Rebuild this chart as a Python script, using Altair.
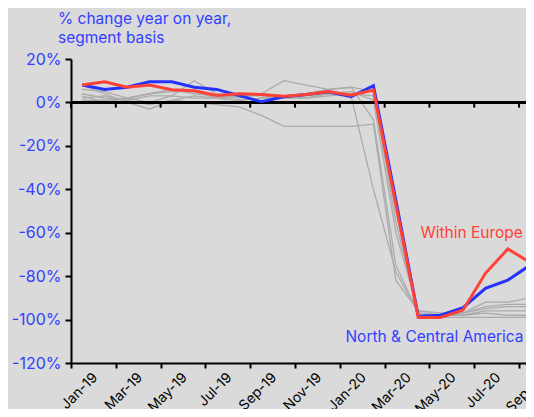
import altair as alt
import pandas as pd

months = ["Jan-19", "Feb-19", "Mar-19", "Apr-19", "May-19", "Jun-19", "Jul-19",
          "Aug-19", "Sep-19", "Oct-19", "Nov-19", "Dec-19", "Jan-20", "Feb-20",
          "Mar-20", "Apr-20", "May-20", "Jun-20", "Jul-20", "Aug-20", "Sep-20"]

within_europe = [8.0, 9.5, 7.0, 8.0, 5.8, 5.4, 3.2, 4.0, 3.7, 2.9, 3.7, 5.0, 3.3, 5.7,
                 -47, -99, -99, -95.6, -78.7, -67.5, -73.7]
north_central_america = [8.0, 6.0, 7.0, 9.5, 9.5, 7.0, 6.0, 3.2, 0.3, 2.6, 3.6, 4.9, 2.6, 7.7,
                         -45, -98.5, -98, -94.5, -85.6, -81.8, -74.9]

other_segments = {
    "Europe - Asia": [2, 3, 1, -1, 1, 0, -1, -2, -6, -11, -11, -11, -11, -10,
                      -82, -96, -97, -97, -95, -94, -94],
    "Middle East - Asia": [6, 5, 2, 4, 6, 4, 3, 2, 4, 10, 8, 6, 7, -8,
                           -75, -97, -98, -98, -97, -98, -98],
    "Within Asia": [4, 2, 1, 3, 3, 10, 4, 3, 3, 2, 3, 4, 3, -40,
                    -78, -97, -98, -97, -94, -93, -93],
    "Europe - North America": [1, 1, 2, 0, 3, 2, 2, 1, 2, 3, 2, 4, 5, 1,
                               -60, -96, -97, -97, -92, -92, -90],
    "Europe - Middle East": [8, 4, 0, -3, 1, 3, 2, 1, 2, 2, 2, 3, 4, 3,
                             -50, -97, -98, -98, -96, -96, -96],
    "Within Middle East": [3, 0, 2, 4, 5, 5, 2, 3, 4, 3, 4, 6, 7, 5,
                           -55, -98, -99, -99, -99, -99, -99],
}

label_names = ["Within Europe", "North & Central America"]
label_pos_x = [15.1, 11.75]
label_pos_y = [-60, -108]

y_ticks = [-120, -100, -80, -60, -40, -20, 0, 20]
x_tick_pos = [i - 0.5 for i in range(0, 21, 2)]

BLUE = "#2432ff"
BLUE_TXT = "#3340ff"
RED = "#ff4136"
GREY = "#ababab"
FONT = "Inter"

idx = list(range(len(months)))

grey_rows = []
for name, vals in other_segments.items():
    for i, v in zip(idx, vals):
        grey_rows.append({"i": i, "v": v, "segment": name})
grey_df = pd.DataFrame(grey_rows)
red_df = pd.DataFrame({"i": idx, "v": within_europe})
blue_df = pd.DataFrame({"i": idx, "v": north_central_america})
lab_df = pd.DataFrame({"x": label_pos_x, "y": label_pos_y, "t": label_names,
                       "c": [RED, BLUE_TXT]})
ticks_df = pd.DataFrame({"p": x_tick_pos})

label_array = "[" + ",".join("'" + m + "'" for m in months) + "]"

# 22.4 px per month; the plot is cut at the right edge like the original
xscale = alt.Scale(domain=[-0.5, 19.81], nice=False, zero=False)
yscale = alt.Scale(domain=[-120, 20], nice=False, zero=False)

x_axis = alt.Axis(values=x_tick_pos, labelExpr=label_array + "[round(datum.value + 0.5)]",
                  labelAngle=-45, labelAlign="right", labelBaseline="top",
                  labelFontSize=14, labelFont=FONT, labelColor="#000000",
                  labelOffset=19, labelPadding=2, labelFlush=False, labelOverlap=False,
                  labelBound=False,
                  domainColor="#000000", domainWidth=2, tickColor="#000000",
                  tickWidth=2, tickSize=5, grid=False, title=None)
y_axis = alt.Axis(values=y_ticks, labelExpr="datum.value + '%'",
                  labelFontSize=16, labelFont=FONT, labelColor=BLUE_TXT,
                  labelPadding=4, domainColor="#000000", domainWidth=2,
                  tickColor="#000000", tickWidth=2, tickSize=6, grid=False, title=None)

X = alt.X("i:Q", scale=xscale, axis=x_axis)
Y = alt.Y("v:Q", scale=yscale, axis=y_axis)

grey = alt.Chart(grey_df).mark_line(color=GREY, strokeWidth=1.3).encode(
    x=X, y=Y, detail="segment:N")

zero_line = alt.Chart(ticks_df).mark_rule(color="#000000", strokeWidth=2).encode(
    y=alt.datum(0, scale=yscale))

zero_ticks = alt.Chart(ticks_df).mark_rule(color="#000000", strokeWidth=2).encode(
    x=alt.X("p:Q", scale=xscale),
    y=alt.datum(0, scale=yscale), y2=alt.datum(-2.4))

blue = alt.Chart(blue_df).mark_line(color=BLUE, strokeWidth=3).encode(x=X, y=Y)
red = alt.Chart(red_df).mark_line(color=RED, strokeWidth=3).encode(x=X, y=Y)

labels = alt.Chart(lab_df).mark_text(font=FONT, fontSize=15.5, align="left",
                                     baseline="middle").encode(
    x=alt.X("x:Q", scale=xscale), y=alt.Y("y:Q", scale=yscale),
    text="t:N", color=alt.Color("c:N", scale=None))

chart = alt.layer(grey, zero_line, zero_ticks, blue, red, labels).properties(
    width=455, height=304,
    autosize=alt.AutoSizeParams(type="none"),
    padding={"left": 63, "top": 51, "right": 0, "bottom": 46},
    background="#dadada",
    title=alt.TitleParams(["% change year on year,", "segment basis"], anchor="start",
                          frame="group",
                          color=BLUE_TXT, fontSize=15.5, font=FONT, fontWeight="normal",
                          lineHeight=19, dx=-13, offset=5),
).configure_view(stroke=None)

chart.save("out.html", embed_options={"renderer": "svg", "actions": False})
